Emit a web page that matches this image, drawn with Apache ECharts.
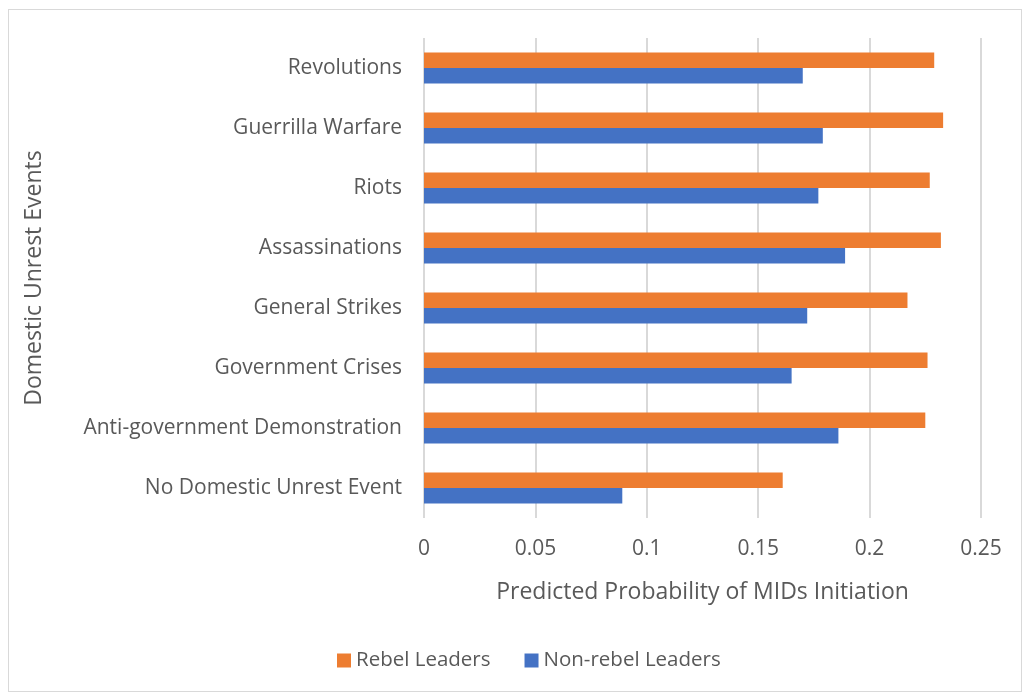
<!DOCTYPE html>
<html><head><meta charset="utf-8">
<script src="https://cdn.jsdelivr.net/npm/echarts@6/dist/echarts.min.js"></script>
<style>html,body{margin:0;padding:0;background:#fff}#c{width:1022px;height:693px}
#frame{position:absolute;left:8px;top:9px;width:1014px;height:683px;border:1px solid #d9d9d9;box-sizing:border-box;pointer-events:none}</style>
</head><body><div id="c"></div><div id="frame"></div>
<script>
const categories = ['No Domestic Unrest Event','Anti-government Demonstration','Government Crises','General Strikes','Assassinations','Riots','Guerrilla Warfare','Revolutions'];
const rebelLeaders = [0.161, 0.225, 0.226, 0.217, 0.232, 0.227, 0.233, 0.229];
const nonRebelLeaders = [0.089, 0.186, 0.165, 0.172, 0.189, 0.177, 0.179, 0.170];
const xTicks = [0, 0.05, 0.1, 0.15, 0.2, 0.25];
const FONT = 'Open Sans';
const chart = echarts.init(document.getElementById('c'), null, {renderer:'canvas'});
chart.setOption({
  animation:false,
  textStyle:{fontFamily:FONT},
  grid:{left:424, right:41, top:38, bottom:175, containLabel:false},
  legend:{
    data:['Rebel Leaders','Non-rebel Leaders'],
    bottom:17, left:332, itemWidth:14, itemHeight:14, itemGap:34, icon:'rect',
    textStyle:{fontSize:20.5, color:'#595959', fontFamily:FONT}
  },
  xAxis:{
    type:'value', min:0, max:0.25, interval:0.05,
    name:'Predicted Probability of MIDs Initiation', nameLocation:'middle', nameGap:63,
    nameTextStyle:{fontSize:23, color:'#595959', fontFamily:FONT},
    axisLine:{show:false}, axisTick:{show:false},
    axisLabel:{fontSize:21, color:'#595959', margin:21, formatter:v=>String(+v.toFixed(2))},
    splitLine:{lineStyle:{color:'#d9d9d9', width:2}}
  },
  yAxis:{
    type:'category', data:categories,
    name:'Domestic Unrest Events', nameLocation:'middle', nameGap:378, nameRotate:90,
    nameTextStyle:{fontSize:23, color:'#595959', fontFamily:FONT},
    axisLine:{show:false}, axisTick:{show:false},
    axisLabel:{fontSize:21, color:'#595959', margin:22}
  },
  series:[
    {name:'Rebel Leaders', type:'bar', data:rebelLeaders, itemStyle:{color:'#ed7d31'}, barGap:'0%', barCategoryGap:'48%'},
    {name:'Non-rebel Leaders', type:'bar', data:nonRebelLeaders, itemStyle:{color:'#4472c4'}, barGap:'0%', barCategoryGap:'48%'}
  ]
});
</script></body></html>
